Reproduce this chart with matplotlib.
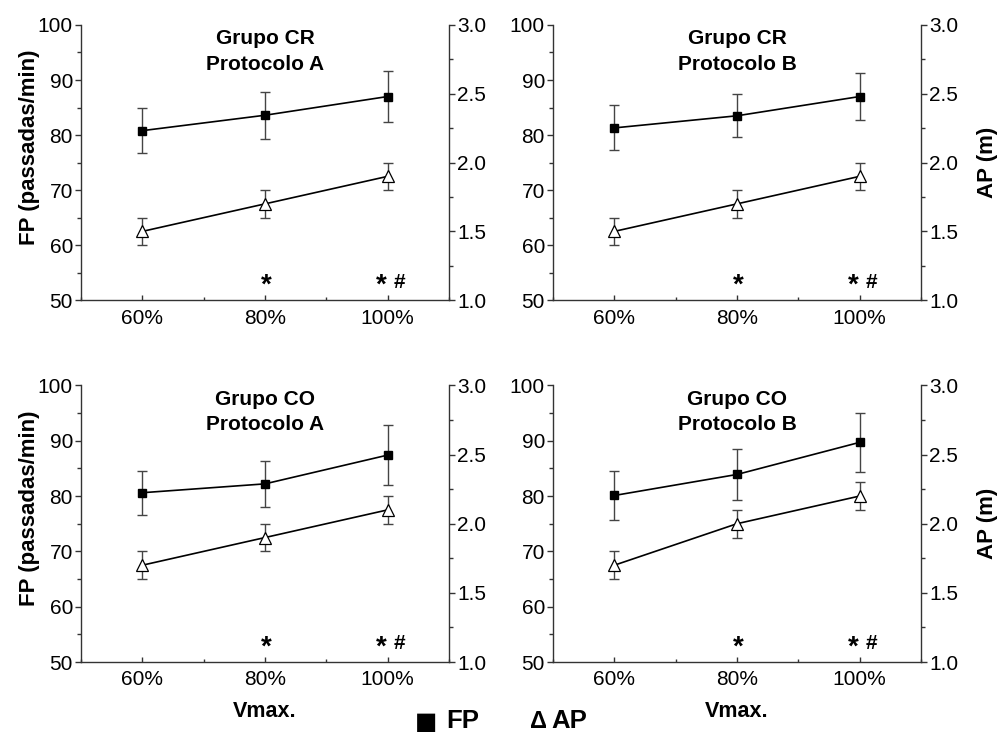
import matplotlib
matplotlib.use('Agg')
import matplotlib.pyplot as plt
from matplotlib.ticker import MultipleLocator, FormatStrFormatter

plt.rcParams['font.family'] = ['Liberation Sans', 'DejaVu Sans']

# data
velocidade = [60, 80, 100]
tick_labels = ['60%', '80%', '100%']
titulos = ['Grupo CR\nProtocolo A', 'Grupo CR\nProtocolo B',
           'Grupo CO\nProtocolo A', 'Grupo CO\nProtocolo B']

# FP (passadas/min), left axis
fp_cr_a = [80.8, 83.6, 87.0]
fp_cr_a_err = [4.1, 4.3, 4.6]
fp_cr_b = [81.3, 83.5, 87.0]
fp_cr_b_err = [4.1, 3.9, 4.3]
fp_co_a = [80.6, 82.2, 87.4]
fp_co_a_err = [4.0, 4.1, 5.4]
fp_co_b = [80.1, 83.9, 89.7]
fp_co_b_err = [4.5, 4.6, 5.3]

# AP (m), right axis
ap_cr_a = [1.5, 1.7, 1.9]
ap_cr_a_err = [0.1, 0.1, 0.1]
ap_cr_b = [1.5, 1.7, 1.9]
ap_cr_b_err = [0.1, 0.1, 0.1]
ap_co_a = [1.7, 1.9, 2.1]
ap_co_a_err = [0.1, 0.1, 0.1]
ap_co_b = [1.7, 2.0, 2.2]
ap_co_b_err = [0.1, 0.1, 0.1]

fp_all = [(fp_cr_a, fp_cr_a_err), (fp_cr_b, fp_cr_b_err),
          (fp_co_a, fp_co_a_err), (fp_co_b, fp_co_b_err)]
ap_all = [(ap_cr_a, ap_cr_a_err), (ap_cr_b, ap_cr_b_err),
          (ap_co_a, ap_co_a_err), (ap_co_b, ap_co_b_err)]

# panel positions [left, bottom, width, height] in figure fraction
posicoes = [[0.081, 0.591, 0.368, 0.375],
            [0.553, 0.591, 0.368, 0.375],
            [0.081, 0.098, 0.368, 0.377],
            [0.553, 0.098, 0.368, 0.377]]

spine_cor = '#333333'
err_cor = '#444444'

fig = plt.figure(figsize=(10, 7.34), dpi=100)

for i in range(4):
    ax = fig.add_axes(posicoes[i])
    ax2 = ax.twinx()
    fp, fp_err = fp_all[i]
    ap, ap_err = ap_all[i]

    ax.errorbar(velocidade, fp, yerr=fp_err, fmt='none', ecolor=err_cor,
                elinewidth=1, capsize=3.5, capthick=1, zorder=2)
    ax.plot(velocidade, fp, color='black', lw=1.2, marker='s', ms=6,
            mfc='black', mec='black', zorder=3)

    ax2.errorbar(velocidade, ap, yerr=ap_err, fmt='none', ecolor=err_cor,
                 elinewidth=1, capsize=3.5, capthick=1, zorder=2)
    ax2.plot(velocidade, ap, color='black', lw=1.2, marker='^', ms=8,
             mfc='white', mec='black', mew=0.9, zorder=3)

    ax.set_xlim(50, 110)
    ax.set_ylim(50, 100)
    ax2.set_ylim(1.0, 3.0)
    ax.set_xticks(velocidade)
    ax.set_xticklabels(tick_labels)
    ax.xaxis.set_minor_locator(MultipleLocator(10))
    ax.yaxis.set_major_locator(MultipleLocator(10))
    ax.yaxis.set_minor_locator(MultipleLocator(5))
    ax2.yaxis.set_major_locator(MultipleLocator(0.5))
    ax2.yaxis.set_minor_locator(MultipleLocator(0.25))
    ax2.yaxis.set_major_formatter(FormatStrFormatter('%.1f'))

    for a in (ax, ax2):
        a.spines['top'].set_visible(False)
        for s in ('left', 'right', 'bottom'):
            a.spines[s].set_color(spine_cor)
            a.spines[s].set_linewidth(1.0)
    ax.spines['right'].set_visible(False)
    ax2.spines['left'].set_visible(False)
    ax2.spines['bottom'].set_visible(False)

    ax.tick_params(axis='x', which='major', direction='in', length=3.8,
                   width=1, color=spine_cor, labelsize=15, pad=6)
    ax.tick_params(axis='x', which='minor', direction='in', length=2.5,
                   width=1, color=spine_cor)
    ax.tick_params(axis='y', which='major', direction='out', length=4.3,
                   width=1, color=spine_cor, labelsize=15, pad=1.5)
    ax.tick_params(axis='y', which='minor', direction='out', length=2.9,
                   width=1, color=spine_cor)
    ax2.tick_params(axis='y', which='major', direction='out', length=4.3,
                    width=1, color=spine_cor, labelsize=15, pad=1.5)
    ax2.tick_params(axis='y', which='minor', direction='out', length=2.9,
                    width=1, color=spine_cor)

    ax.text(80, 0.985, titulos[i], transform=ax.get_xaxis_transform(),
            ha='center', va='top', fontsize=15, fontweight='bold',
            linespacing=1.45)

    # significance marks
    ax.text(80.2, 0.026, '*', transform=ax.get_xaxis_transform(),
            ha='center', va='baseline', fontsize=20, fontweight='bold')
    ax.text(98.9, 0.026, '*', transform=ax.get_xaxis_transform(),
            ha='center', va='baseline', fontsize=20, fontweight='bold')
    ax.text(102.0, 0.046, '#', transform=ax.get_xaxis_transform(),
            ha='center', va='baseline', fontsize=15, fontweight='bold')

    if i % 2 == 0:
        ax.set_ylabel('FP (passadas/min)', fontsize=16, fontweight='bold')
        ax.yaxis.set_label_coords(-0.112, 0.555)
    else:
        ax2.set_ylabel('AP (m)', fontsize=16, fontweight='bold')
        ax2.yaxis.set_label_coords(1.152, 0.5)
    if i >= 2:
        ax.set_xlabel('Vmax.', fontsize=15.5, fontweight='bold')
        ax.xaxis.set_label_coords(0.5, -0.142)

# legend drawn as text under the panels
fig.text(0.415, 0.0, '\u25a0', fontsize=17, family='DejaVu Sans', va='bottom')
fig.text(0.446, 0.001, 'FP', fontsize=18.5, fontweight='bold', va='bottom')
fig.text(0.530, 0.001, '\u0394', fontsize=17, fontweight='bold', va='bottom')
fig.text(0.551, 0.001, 'AP', fontsize=18.5, fontweight='bold', va='bottom')

fig.savefig('out.png', dpi=100)
